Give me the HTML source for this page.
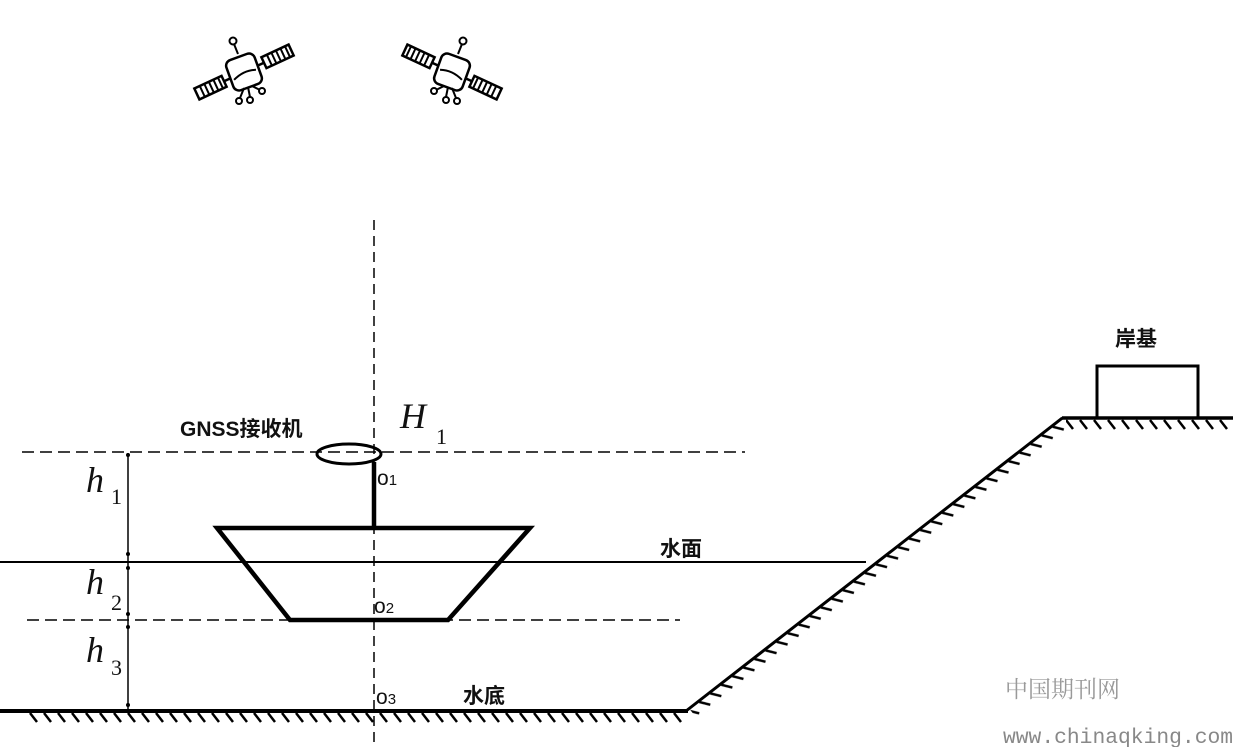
<!DOCTYPE html>
<html><head><meta charset="utf-8"><style>
html,body{margin:0;padding:0;background:#fff;}
svg{display:block}
.cn{font-family:"Liberation Sans","Noto Sans CJK SC",sans-serif;font-weight:bold;font-size:21px;fill:#111}
.it{font-family:"Liberation Serif",serif;font-style:italic;fill:#111}
.sub{font-family:"Liberation Serif",serif;fill:#111}
.o{font-family:"Liberation Sans",sans-serif;fill:#111;font-size:21px}
</style></head><body>
<svg width="1233" height="747" viewBox="0 0 1233 747" xmlns="http://www.w3.org/2000/svg">
<defs>
<pattern id="hat" x="0" y="0" width="14" height="14" patternUnits="userSpaceOnUse">
<line x1="2" y1="1" x2="9" y2="10" stroke="#000" stroke-width="2.5"/>
</pattern>
<g id="sat">
<g transform="rotate(-25)">
<rect x="-52" y="-6" width="30" height="12" fill="none" stroke="#000" stroke-width="2.5"/>
<path d="M-46 -6v12M-41 -6v12M-36 -6v12M-31 -6v12M-26 -6v12" stroke="#000" stroke-width="2"/>
<rect x="22" y="-6" width="30" height="12" fill="none" stroke="#000" stroke-width="2.5"/>
<path d="M28 -6v12M33 -6v12M38 -6v12M43 -6v12M48 -6v12" stroke="#000" stroke-width="2"/>
<line x1="-22" y1="0" x2="-16" y2="0" stroke="#000" stroke-width="2.5"/>
<line x1="16" y1="0" x2="22" y2="0" stroke="#000" stroke-width="2.5"/>
</g>
<rect x="-15" y="-16" width="30" height="32" rx="6" fill="#fff" stroke="#000" stroke-width="2.5" transform="rotate(-20)"/>
<path d="M-12 4 Q0 -2 12 2" fill="none" stroke="#000" stroke-width="2" transform="rotate(-20)"/>
<line x1="-6" y1="-18" x2="-10" y2="-28" stroke="#000" stroke-width="2"/>
<circle cx="-11" cy="-31" r="3.5" fill="none" stroke="#000" stroke-width="2"/>
<path d="M0 16 l-4 10 M4 15 l2 10 M8 14 l8 4" stroke="#000" stroke-width="2" fill="none"/>
<circle cx="-5" cy="29" r="3" fill="none" stroke="#000" stroke-width="2"/>
<circle cx="6" cy="28" r="3" fill="none" stroke="#000" stroke-width="2"/>
<circle cx="18" cy="19" r="3" fill="none" stroke="#000" stroke-width="2"/>
</g>
</defs>
<use href="#sat" transform="translate(244,72)"/>
<use href="#sat" transform="translate(452,72) scale(-1,1)"/>

<line x1="374" y1="220" x2="374" y2="747" stroke="#000" stroke-width="1.5" stroke-dasharray="10,6"/>
<line x1="22" y1="452" x2="745" y2="452" stroke="#000" stroke-width="1.5" stroke-dasharray="12,6"/>
<line x1="27" y1="620" x2="680" y2="620" stroke="#000" stroke-width="1.5" stroke-dasharray="12,6"/>

<line x1="0" y1="562" x2="866" y2="562" stroke="#000" stroke-width="2"/>

<polygon points="217,528 530,528 448,620 290,620" fill="none" stroke="#000" stroke-width="4.5"/>
<line x1="374" y1="462" x2="374" y2="528" stroke="#000" stroke-width="4.5"/>
<ellipse cx="349" cy="454" rx="32" ry="10" fill="none" stroke="#000" stroke-width="3"/>

<line x1="128" y1="453" x2="128" y2="711" stroke="#000" stroke-width="1.5"/>
<g fill="#000"><circle cx="128" cy="455" r="2"/><circle cx="128" cy="554" r="2"/><circle cx="128" cy="568" r="2"/><circle cx="128" cy="614" r="2"/><circle cx="128" cy="627" r="2"/><circle cx="128" cy="705" r="2"/></g>

<g transform="translate(0,712)"><rect x="25" y="0" width="662" height="14" fill="url(#hat)"/></g>
<line x1="0" y1="711" x2="688" y2="711" stroke="#000" stroke-width="4"/>
<g transform="translate(686,711) rotate(-37.9)">
<rect x="4" y="0" width="470" height="14" fill="url(#hat)"/>
<line x1="0" y1="0" x2="477" y2="0" stroke="#000" stroke-width="3"/>
</g>
<g transform="translate(0,419)"><rect x="1066" y="0" width="167" height="14" fill="url(#hat)"/></g>
<line x1="1062" y1="418" x2="1233" y2="418" stroke="#000" stroke-width="3.5"/>
<rect x="1097" y="366" width="101" height="52" fill="none" stroke="#000" stroke-width="3"/>

<text x="180" y="436" class="cn">GNSS接收机</text>
<text x="400" y="428" class="it" font-size="36">H</text><text x="436" y="444" class="sub" font-size="22">1</text>
<text x="86" y="492" class="it" font-size="36">h</text><text x="111" y="504" class="sub" font-size="22">1</text>
<text x="86" y="594" class="it" font-size="36">h</text><text x="111" y="610" class="sub" font-size="22">2</text>
<text x="86" y="662" class="it" font-size="36">h</text><text x="111" y="675" class="sub" font-size="22">3</text>
<text x="377" y="485" class="o">o<tspan font-size="15">1</tspan></text>
<text x="374" y="613" class="o">o<tspan font-size="15">2</tspan></text>
<text x="376" y="704" class="o">o<tspan font-size="15">3</tspan></text>
<text x="660" y="556" class="cn">水面</text>
<text x="463" y="703" class="cn">水底</text>
<text x="1115" y="346" class="cn">岸基</text>
<text x="1005" y="697" font-family="'Noto Serif CJK SC',serif" font-size="23" fill="#999">中国期刊网</text>
<text x="1003" y="743" font-family="'Liberation Mono',monospace" font-size="21.3" fill="#888">www.chinaqking.com</text>
</svg>
</body></html>
